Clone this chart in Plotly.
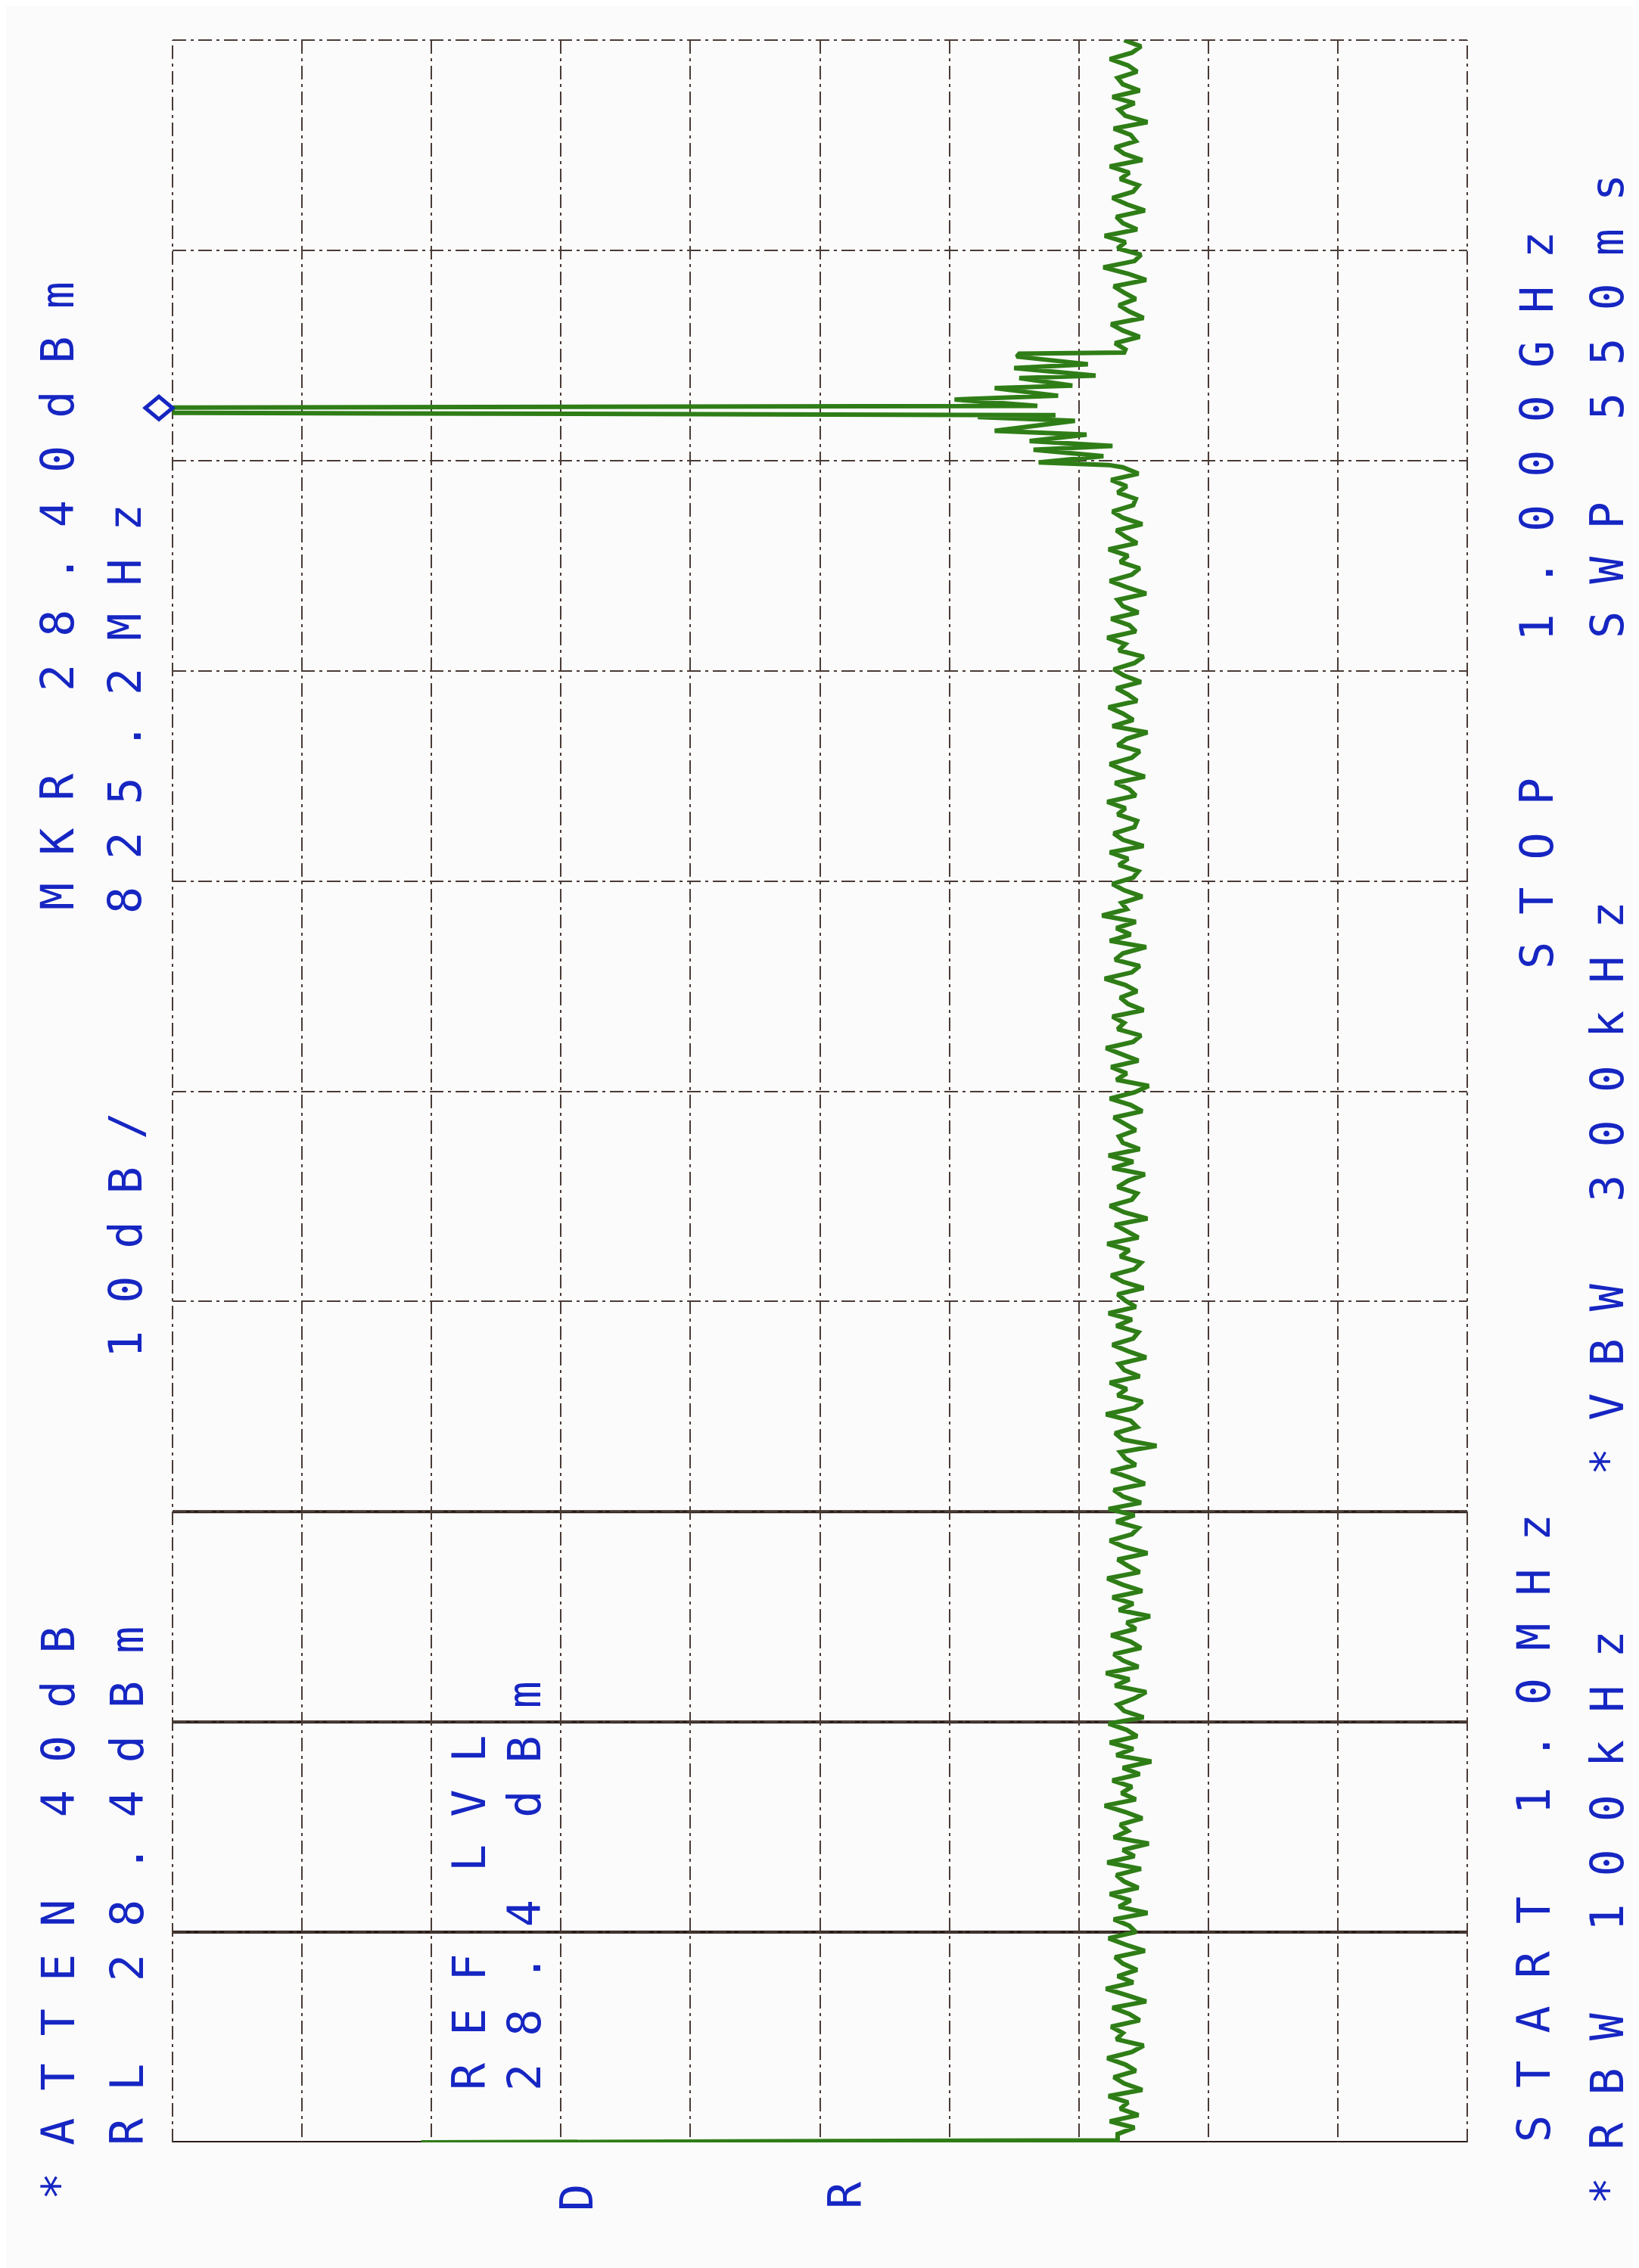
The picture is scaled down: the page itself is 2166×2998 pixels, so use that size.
import numpy as np
import plotly.graph_objs as go

# analyzer settings printed on the plot
ref_level = 28.4      # dBm at the left edge
db_per_div = 10
n_div = 10
start_mhz = 1.0
stop_mhz = 1000.0
mkr_freq = 825.2
mkr_level = 28.40

# trace (frequency MHz -> level dBm)
lo_freq = [1.0, 2.0]
lo_level = [9.2, -44.6]

# noise floor 5 .. 797 MHz, 3 MHz steps
noise_low_first, noise_low_last = 5.0, 797.0
noise_low_level = [
    -44.6, -45.9, -44.0, -46.2, -44.8, -45.4, -43.9, -46.5, -45.1, -44.3,
    -46.0, -45.2, -43.8, -45.7, -46.6, -44.5, -45.0, -44.1, -46.3, -45.5,
    -44.2, -46.8, -45.3, -43.7, -45.8, -44.6, -46.1, -45.0, -44.4, -46.7,
    -45.2, -43.9, -46.0, -45.5, -44.3, -46.9, -44.7, -45.6, -44.0, -46.2,
    -45.1, -44.5, -46.4, -43.8, -45.9, -45.0, -47.0, -44.3, -45.4, -44.8,
    -46.5, -45.2, -43.6, -46.0, -44.9, -45.7, -44.2, -46.3, -45.0, -47.2,
    -44.5, -45.8, -44.0, -46.1, -45.3, -43.9, -46.6, -45.1, -44.6, -45.9,
    -46.8, -44.4, -45.5, -43.7, -46.2, -45.0, -44.3, -46.4, -45.6, -44.1,
    -46.0, -45.3, -47.1, -44.7, -45.8, -44.2, -46.5, -45.0, -43.8, -46.3,
    -45.4, -44.6, -46.9, -45.1, -44.0, -45.7, -46.2, -44.5, -45.9, -43.9,
    -46.4, -45.0, -44.3, -46.7, -45.5, -44.1, -46.0, -45.2, -44.8, -47.6,
    -45.0, -44.4, -46.1, -45.6, -43.7, -45.9, -46.5, -44.6, -45.3, -44.0,
    -46.3, -45.1, -44.7, -46.8, -45.4, -44.2, -45.8, -46.2, -44.5, -45.7,
    -43.9, -46.0, -45.2, -44.6, -46.6, -45.0, -44.1, -45.9, -46.4, -44.8,
    -45.5, -43.8, -46.2, -45.3, -44.4, -46.9, -45.1, -44.0, -45.7, -46.1,
    -44.6, -45.4, -46.7, -44.2, -45.8, -43.9, -46.3, -45.0, -44.7, -46.0,
    -45.2, -44.3, -46.5, -45.6, -44.0, -45.9, -47.0, -44.5, -45.3, -44.1,
    -46.2, -45.0, -43.7, -45.8, -46.4, -44.6, -45.1, -44.2, -46.6, -45.4,
    -44.8, -46.1, -45.2, -43.6, -45.7, -46.3, -44.4, -45.0, -46.8, -44.0,
    -45.6, -44.5, -46.0, -43.4, -45.3, -44.9, -46.5, -45.1, -44.2, -45.8,
    -46.2, -44.7, -45.4, -44.0, -46.6, -45.0, -44.3, -45.9, -46.1, -44.6,
    -45.2, -43.8, -46.0, -45.5, -44.4, -46.7, -45.1, -44.0, -45.7, -46.3,
    -44.6, -45.3, -46.9, -44.2, -45.8, -45.0, -43.9, -46.1, -45.4, -44.5,
    -46.4, -45.1, -44.3, -45.9, -46.6, -44.7, -45.2, -43.8, -46.0, -45.5,
    -44.1, -46.2, -45.0, -44.6, -46.8, -45.3, -44.0, -45.7, -46.3, -44.8,
    -45.4, -43.9, -46.1, -45.2, -44.5, -46.5, -45.0, -44.2, -45.8, -46.0,
    -44.6, -45.3, -44.1, -46.2, -45.0,
]

# carrier with its sidebands around the marker
skirt_freq = [798.1, 799.3, 802.3, 805.3, 807.1, 809.5, 812.5, 814.3, 819.1, 820.9,
              821.8, 822.9, 825.4, 826.2, 829.2, 831.0, 834.6, 835.8, 839.4, 840.6,
              844.2, 846.0, 849.6, 851.0, 851.5]
skirt_level = [-43.9, -38.5, -43.5, -38.1, -44.2, -37.8, -42.2, -35.1, -41.3, -33.8,
               -39.8, 28.4, 28.4, -38.4, -32.0, -40.0, -35.1, -41.1, -37.0, -42.9,
               -36.6, -42.3, -36.8, -37.0, -45.1]

# noise floor 853 .. 1000 MHz, 3 MHz steps
noise_hi_first, noise_hi_last = 853.0, 1000.0
noise_hi_level = [
    -45.2, -44.4, -46.3, -45.0, -44.1, -46.6, -45.5, -44.7, -46.0, -45.1,
    -44.3, -46.8, -45.4, -43.5, -45.9, -46.4, -44.6, -45.2, -43.6, -46.1,
    -45.0, -44.5, -46.7, -45.3, -44.2, -45.8, -46.2, -44.8, -45.5, -44.0,
    -46.5, -45.1, -44.4, -46.0, -45.6, -44.3, -46.9, -45.2, -44.7, -45.9,
    -44.2, -46.3, -45.0, -44.6, -46.1, -45.4, -44.0, -45.7, -46.4, -45.1,
]

freq = np.concatenate([
    lo_freq,
    np.linspace(noise_low_first, noise_low_last, len(noise_low_level)),
    skirt_freq,
    np.linspace(noise_hi_first, noise_hi_last, len(noise_hi_level)),
])
level = np.concatenate([lo_level, noise_low_level, skirt_level, noise_hi_level])

bottom_level = ref_level - n_div * db_per_div
freq_div = (stop_mhz - start_mhz) / n_div

ink = '#1626c2'
grid = '#4a3b35'
dash = '18px,6px,4px,6px'
font = dict(family='DejaVu Sans Mono', size=60, color=ink)

W, H = 2166, 2998
L, R, T, B = 220, 235, 45, 174


def spaced(s):
    # plotter text has wide letter pitch
    return '\u00a0'.join(s.replace(' ', '\u00a0'))


def to_paper(x, y):
    return (x - L) / (W - L - R), (H - B - y) / (H - T - B)


trace = go.Scatter(x=level, y=freq, mode='lines',
                   line=dict(color='#2f7d17', width=6),
                   hoverinfo='skip')

labels = [
    ('*ATTEN 40dB', 75, 2521),
    ('RL 28.4dBm', 166, 2485),
    ('MKR 28.40dBm', 74, 780),
    ('825.2MHz', 163, 929),
    ('10dB/', 164, 1625),
    ('REF LVL', 618, 2520),
    ('28.4 dBm', 691, 2485),
    ('D', 760, 2897),
    ('R', 1115, 2894),
    ('START 1.0MHz', 2025, 2409),
    ('STOP  1.000GHz', 2029, 786),
    ('*RBW 100kHz', 2122, 2527),
    ('*VBW 300kHz', 2122, 1563),
    ('SWP 550ms', 2122, 529),
]
annotations = []
for text, x, y in labels:
    px, py = to_paper(x - 6, y)
    annotations.append(dict(text=spaced(text), x=px, y=py, xref='paper', yref='paper',
                            xanchor='center', yanchor='middle', textangle=-90,
                            showarrow=False, font=font))

shapes = []
# the lower four graticule lines are drawn solid on the plot
for k in range(4):
    shapes.append(dict(type='line', xref='paper', x0=0, x1=1, yref='y',
                       y0=start_mhz + k * freq_div, y1=start_mhz + k * freq_div,
                       line=dict(color='#2a1d18', width=4), layer='below'))
# dashed frame on the other three sides
for x0, y0, x1, y1 in [(0, 0, 0, 1), (1, 0, 1, 1), (0, 1, 1, 1)]:
    shapes.append(dict(type='line', xref='paper', yref='paper', x0=x0, y0=y0, x1=x1, y1=y1,
                       line=dict(color=grid, width=2, dash=dash), layer='below'))
# marker symbol just left of the reference level line
shapes.append(dict(type='path', xref='paper', yref='y', xsizemode='pixel', ysizemode='pixel',
                   xanchor=0, yanchor=mkr_freq,
                   path='M -36 0 L -18 15 L 0 0 L -18 -15 Z',
                   line=dict(color=ink, width=5)))

layout = go.Layout(
    width=W, height=H,
    margin=dict(l=L, r=R, t=T, b=B),
    paper_bgcolor='#fbfbfb', plot_bgcolor='#fbfbfb',
    showlegend=False,
    xaxis=dict(range=[ref_level, bottom_level], tick0=ref_level, dtick=db_per_div,
               showgrid=True, gridcolor=grid, gridwidth=2, griddash=dash,
               showticklabels=False, zeroline=False, showline=False, ticks=''),
    yaxis=dict(range=[start_mhz, stop_mhz], tick0=start_mhz, dtick=freq_div,
               showgrid=True, gridcolor=grid, gridwidth=2, griddash=dash,
               showticklabels=False, zeroline=False, showline=False, ticks=''),
    annotations=annotations,
    shapes=shapes,
)

fig = go.Figure(data=[trace], layout=layout)
fig.write_html('out.html')
